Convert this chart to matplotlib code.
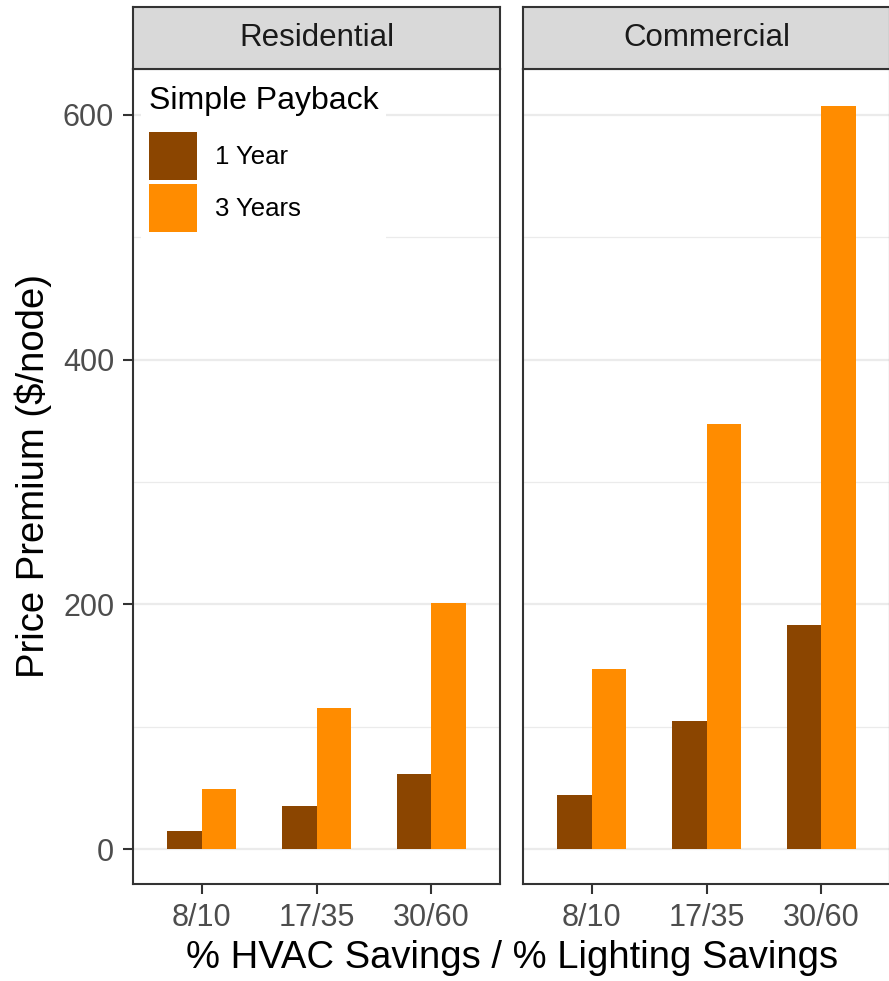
import numpy as np
import matplotlib.pyplot as plt
from matplotlib.patches import Patch

plt.rcParams['font.family'] = ['Liberation Sans', 'DejaVu Sans']

categories = ['8/10', '17/35', '30/60']
facets = ['Residential', 'Commercial']
payback = ['1 Year', '3 Years']
colors = ['#8B4500', '#FF8C00']

# price premium ($/node)
res_1yr = [15, 35, 61]
res_3yr = [49, 115, 201]
com_1yr = [44, 105, 183]
com_3yr = [147, 347, 607]
values = {'Residential': [res_1yr, res_3yr], 'Commercial': [com_1yr, com_3yr]}

W, H = 889, 981
fig = plt.figure(figsize=(W / 100, H / 100), dpi=100)

def box(x0, y0, x1, y1):
    # pixel box (top-left origin) -> figure fraction
    return [x0 / W, 1 - y1 / H, (x1 - x0) / W, (y1 - y0) / H]

border = '#333333'
ymax = max(max(v) for s in values.values() for v in s)
ylim = (-0.047 * ymax, 1.05 * ymax)
x = np.arange(1, len(categories) + 1)
bw = 0.3

panels = [(133, 500), (523, 890)]
axes = []
for k, (facet, (x0, x1)) in enumerate(zip(facets, panels)):
    ax = fig.add_axes(box(x0, 69, x1, 884))
    for j, series in enumerate(values[facet]):
        ax.bar(x + (j - 0.5) * bw, series, width=bw, color=colors[j],
               label=payback[j], zorder=3)
    ax.set_xlim(0.4, 3.6)
    ax.set_ylim(*ylim)
    ax.set_yticks([0, 200, 400, 600])
    ax.set_yticks([100, 300, 500], minor=True)
    ax.grid(axis='y', which='major', color='#EBEBEB', lw=1.6, zorder=0)
    ax.grid(axis='y', which='minor', color='#EBEBEB', lw=0.9, zorder=0)
    ax.set_axisbelow(True)
    ax.set_xticks(x)
    ax.set_xticklabels(categories)
    for s in ax.spines.values():
        s.set_color(border)
        s.set_linewidth(1.5)
    ax.tick_params(axis='both', which='major', length=7.5, width=1.5, color=border,
                   labelsize=22, labelcolor='#4D4D4D', pad=6)
    ax.tick_params(axis='y', which='minor', length=0)
    if k > 0:
        ax.tick_params(axis='y', which='major', length=0, labelleft=False)

    st = fig.add_axes(box(x0, 7, x1, 69))
    st.set_facecolor('#D9D9D9')
    st.set_xticks([])
    st.set_yticks([])
    for s in st.spines.values():
        s.set_color(border)
        s.set_linewidth(1.5)
    st.text(0.5, 0.5, facet, ha='center', va='center', fontsize=22.5,
            color='#1A1A1A', transform=st.transAxes)
    axes.append(ax)

handles = [Patch(facecolor=c, edgecolor='none', label=l) for c, l in zip(colors, payback)]
leg = axes[0].legend(handles=handles, title='Simple Payback', loc='upper left',
                     bbox_to_anchor=(141 / W, 1 - 78 / H), bbox_transform=fig.transFigure,
                     fontsize=18.5, title_fontsize=23, frameon=True, fancybox=False,
                     edgecolor='none', facecolor='white', framealpha=1,
                     handlelength=1.87, handleheight=2.5, handletextpad=0.7,
                     labelspacing=0.156, borderpad=0.3, borderaxespad=0)
leg._legend_box.align = 'left'
leg._legend_box.sep = 11.5
leg.set_zorder(5)

fig.text(512 / W, 1 - 968 / H, '% HVAC Savings / % Lighting Savings', ha='center',
         va='baseline', fontsize=27.5)
fig.text(33 / W, 1 - 476 / H, 'Price Premium ($/node)', ha='center', va='center',
         rotation=90, fontsize=27.5)

fig.savefig('out.png', dpi=100)
